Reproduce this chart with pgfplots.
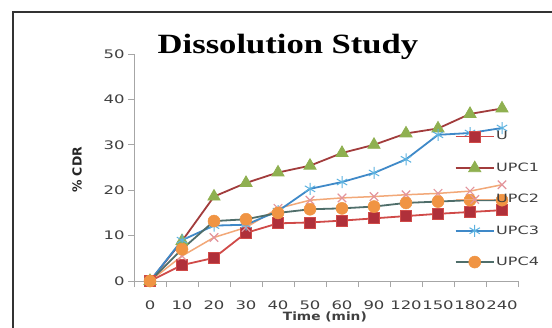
\documentclass[border=0pt]{standalone}
\usepackage{pgfplots}
\pgfplotsset{compat=1.18}
\usepackage{fontspec}
\setmainfont{DejaVu Sans}
\newfontfamily\tickfont[FakeStretch=1.4]{DejaVu Sans}
\newfontfamily\labfont[FakeStretch=1.2]{DejaVu Sans}
\newfontfamily\titlefont[FakeStretch=1.24]{Liberation Serif}
\definecolor{frameC}{HTML}{333333}
\definecolor{axisC}{HTML}{A6A6A6}
\definecolor{txtC}{HTML}{404040}
\definecolor{uLine}{HTML}{D04A48}
\definecolor{uMark}{HTML}{B0303A}
\definecolor{aLine}{HTML}{A23C3C}
\definecolor{aMark}{HTML}{8FB050}
\definecolor{bLine}{HTML}{F2A878}
\definecolor{bMark}{HTML}{E3949C}
\definecolor{cLine}{HTML}{3F89C8}
\definecolor{cMark}{HTML}{5CB2E0}
\definecolor{dLine}{HTML}{4F6E6A}
\definecolor{dMark}{HTML}{F09443}
\begin{document}
\begin{tikzpicture}
\useasboundingbox (0,0) rectangle (552bp,-328bp);
\fill[white] (0,0) rectangle (552bp,-328bp);
\draw[line width=2.5bp, color=frameC] (13bp,-12bp) rectangle (620bp,-420bp);
\begin{axis}[
  at={(134bp,-281bp)}, anchor=south west,
  scale only axis, width=384bp, height=227bp,
  xmin=-0.5, xmax=11.5, ymin=0, ymax=50,
  axis x line*=bottom, axis y line*=left,
  axis line style={-, draw=axisC, line width=1bp},
  ytick={0,10,...,50},
  tick align=outside,
  major tick length=6bp,
  tick style={draw=axisC, line width=0.8bp},
  xtick={-0.5,0.5,...,11.5}, xticklabels={},
  extra x ticks={0,1,2,3,4,5,6,7,8,9,10,11},
  extra x tick labels={0,10,20,30,40,50,60,90,120,150,180,240},
  extra x tick style={major tick length=0pt, tick label style={yshift=-16bp}},
  /pgf/number format/assume math mode=true,
  tick label style={font=\tickfont\fontsize{11.8}{13}\selectfont, text=txtC},
  title={Dissolution Study},
  title style={at={(axis description cs:0.401,0.978)}, anchor=base, font=\titlefont\bfseries\fontsize{28}{30}\selectfont, inner sep=0pt},
  ylabel={\% CDR},
  ylabel style={at={(axis description cs:-0.148,0.489)}, anchor=center, font=\bfseries\fontsize{12.5}{13}\selectfont, text=black!85},
  xlabel={Time (min)},
  xlabel style={at={(axis description cs:0.497,-0.159)}, anchor=center, font=\labfont\bfseries\fontsize{11.5}{12}\selectfont, text=txtC},
  legend style={at={(axis description cs:0.835,0.666)}, anchor=north west, draw=none, fill=none, inner sep=0pt,
    font=\tickfont\fontsize{11.5}{13}\selectfont, text=txtC, row sep=18.3bp,
    nodes={inner sep=1.5bp}},
  legend cell align=left,
  legend image code/.code={\draw[mark repeat=2,mark phase=2] plot coordinates {(0bp,0bp) (19bp,0bp) (38bp,0bp)};},
  every axis plot/.append style={line width=1.8bp},
  clip=false,
]
\addplot[color=uLine, mark=square*, mark size=5.5bp, mark options={fill=uMark, draw=uLine, line width=0.8bp}]
  coordinates {(0,0) (1,3.5) (2,5.1) (3,10.6) (4,12.7) (5,12.9) (6,13.3) (7,13.8) (8,14.3) (9,14.8) (10,15.2) (11,15.6)};
\addlegendentry{U}
\addplot[color=aLine, mark=triangle*, mark size=7bp, mark options={fill=aMark, draw=aMark, line width=0.8bp}]
  coordinates {(0,0) (1,8.8) (2,18.6) (3,21.6) (4,23.9) (5,25.4) (6,28.2) (7,30.0) (8,32.5) (9,33.6) (10,36.8) (11,38.0)};
\addlegendentry{UPC1}
\addplot[color=bLine, line width=1.5bp, mark=x, mark size=6bp, mark options={draw=bMark, line width=1.2bp}]
  coordinates {(0,0) (1,5.5) (2,9.6) (3,11.8) (4,16.0) (5,17.8) (6,18.3) (7,18.6) (8,19.0) (9,19.3) (10,19.8) (11,21.2)};
\addlegendentry{UPC2}
\addplot[color=cLine, mark=asterisk, mark size=6bp, mark options={draw=cMark, line width=1bp}]
  coordinates {(0,0) (1,9.0) (2,12.2) (3,12.4) (4,15.4) (5,20.3) (6,21.8) (7,23.8) (8,26.8) (9,32.2) (10,32.6) (11,33.7)};
\addlegendentry{UPC3}
\addplot[color=dLine, mark=*, mark size=6bp, mark options={fill=dMark, draw=dMark, line width=0.5bp}]
  coordinates {(0,0) (1,7.0) (2,13.2) (3,13.6) (4,15.0) (5,15.8) (6,16.0) (7,16.4) (8,17.2) (9,17.5) (10,17.8) (11,17.8)};
\addlegendentry{UPC4}
\end{axis}
\end{tikzpicture}
\end{document}
